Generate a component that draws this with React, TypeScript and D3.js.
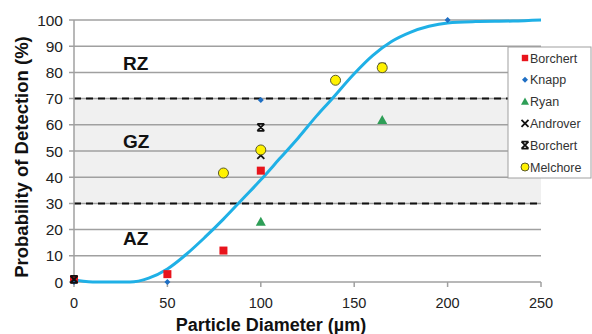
import React from 'react';
import * as d3 from 'd3';

// fitted curve
const curveX = [0, 5, 10, 20, 30, 40, 50, 60, 70, 80, 90, 100, 110, 120, 130, 137, 150, 160, 170, 180, 190, 200, 215, 235, 250];
const curveY = [1, 0.3, 0, 0, 0, 1.5, 5, 10.5, 17, 24, 31.5, 39, 47, 55, 63.5, 69, 79.5, 86.5, 91.8, 95.3, 97.6, 98.9, 99.4, 99.6, 100];

const borchertSq = [[0, 1], [50, 3], [80, 12], [100, 42.5]];
const knapp = [[0, 0], [50, 0], [100, 69.5], [200, 100]];
const ryan = [[100, 23], [165, 61.8]];
const androver = [[0, 1], [100, 48.3]];
const borchertX = [[0, 1], [100, 59], [165, 82]];
const melchore = [[80, 41.6], [100, 50.4], [140, 77], [165, 81.8]];

const yTicks = [0, 10, 20, 30, 40, 50, 60, 70, 80, 90, 100];
const xTicks = [0, 50, 100, 150, 200, 250];
const zoneBounds = [30, 70];
const zones = [
  { label: 'RZ', y: 81 },
  { label: 'GZ', y: 51 },
  { label: 'AZ', y: 14 },
];
const legendNames = ['Borchert', 'Knapp', 'Ryan', 'Androver', 'Borchert', 'Melchore'];

const font = 'Arial, "Liberation Sans", sans-serif';

const Marker = ({ kind, x, y, s = 1 }: { kind: string; x: number; y: number; s?: number }) => {
  switch (kind) {
    case 'square':
      return <rect x={x - 4 * s} y={y - 4 * s} width={8 * s} height={8 * s} fill="#e8141c" />;
    case 'diamond':
      return <path d={`M${x},${y - 3}L${x + 3},${y}L${x},${y + 3}L${x - 3},${y}Z`} fill="#1f6fc4" />;
    case 'triangle':
      return <path d={`M${x},${y - 5 * s}L${x + 5 * s},${y + 4 * s}L${x - 5 * s},${y + 4 * s}Z`} fill="#2e9e57" />;
    case 'x':
      return (
        <path d={`M${x - 3.5},${y - 3.5}L${x + 3.5},${y + 3.5}M${x + 3.5},${y - 3.5}L${x - 3.5},${y + 3.5}`}
          stroke="#111" strokeWidth={1.8} />
      );
    case 'star':
      return (
        <path d={`M${x - 3.5},${y - 3.5}L${x + 3.5},${y + 3.5}M${x + 3.5},${y - 3.5}L${x - 3.5},${y + 3.5}M${x - 3.5},${y - 3.5}H${x + 3.5}M${x - 3.5},${y + 3.5}H${x + 3.5}`}
          stroke="#111" strokeWidth={1.8} />
      );
    default:
      return <circle cx={x} cy={y} r={5 * s} fill="#fff200" stroke="#5a5a2a" strokeWidth={1} />;
  }
};

export default function App() {
  const x = d3.scaleLinear().domain([0, 250]).range([74, 541]);
  const y = d3.scaleLinear().domain([0, 100]).range([282, 20]);

  const line = d3
    .line<number>()
    .x((_, i) => x(curveX[i]))
    .y((d) => y(d))
    .curve(d3.curveMonotoneX);

  const series: { kind: string; data: number[][] }[] = [
    { kind: 'square', data: borchertSq },
    { kind: 'diamond', data: knapp },
    { kind: 'triangle', data: ryan },
    { kind: 'x', data: androver },
    { kind: 'star', data: borchertX },
    { kind: 'circle', data: melchore },
  ];

  return (
    <svg width={592} height={334} style={{ position: 'absolute', left: 0, top: 0, fontFamily: font }}>
      <rect width={592} height={334} fill="#fff" />
      {/* shaded band between zone bounds */}
      <rect x={x(0)} y={y(zoneBounds[1])} width={x(250) - x(0)} height={y(zoneBounds[0]) - y(zoneBounds[1])} fill="#f0f0f0" />

      {yTicks.map((t) => (
        <g key={t}>
          <line x1={x(0) - 5} x2={x(250)} y1={y(t)} y2={y(t)} stroke="#a0a0a0" strokeWidth={1.5} />
          <text x={x(0) - 11} y={y(t) + 5.5} textAnchor="end" fontSize={15.5} fill="#222">{t}</text>
        </g>
      ))}
      {zoneBounds.map((b) => (
        <line key={b} x1={x(0)} x2={x(250)} y1={y(b)} y2={y(b)} stroke="#111" strokeWidth={2} strokeDasharray="7,5" />
      ))}
      <line x1={x(0)} x2={x(0)} y1={y(0)} y2={y(100)} stroke="#a0a0a0" strokeWidth={1.5} />
      {xTicks.map((t) => (
        <g key={t}>
          <line x1={x(t)} x2={x(t)} y1={y(0)} y2={y(0) + 5} stroke="#a0a0a0" strokeWidth={1.5} />
          <text x={x(t)} y={308} textAnchor="middle" fontSize={14.5} fill="#222">{t}</text>
        </g>
      ))}

      {zones.map((z) => (
        <text key={z.label} x={123} y={y(z.y)} fontSize={19} fontWeight="bold" fill="#111">{z.label}</text>
      ))}

      <path d={line(curveY) || ''} fill="none" stroke="#1fb0e6" strokeWidth={3} />

      {series.map((s, i) =>
        s.data.map((d, j) => <Marker key={`${i}-${j}`} kind={s.kind} x={x(d[0])} y={y(d[1])} />)
      )}

      <text x={271} y={331} textAnchor="middle" fontSize={18} fontWeight="bold" fill="#111">Particle Diameter (µm)</text>
      <text transform="translate(28,157) rotate(-90)" textAnchor="middle" fontSize={18.5} fontWeight="bold" fill="#111">
        Probability of Detection (%)
      </text>

      <rect x={508} y={47} width={83} height={131} fill="#fff" stroke="#a0a0a0" strokeWidth={1} />
      {legendNames.map((n, i) => (
        <g key={i}>
          <Marker kind={series[i].kind} x={525} y={58 + i * 21.8} s={0.8} />
          <text x={530} y={58 + i * 21.8 + 4.5} fontSize={12.5} fill="#333">{n}</text>
        </g>
      ))}
    </svg>
  );
}
